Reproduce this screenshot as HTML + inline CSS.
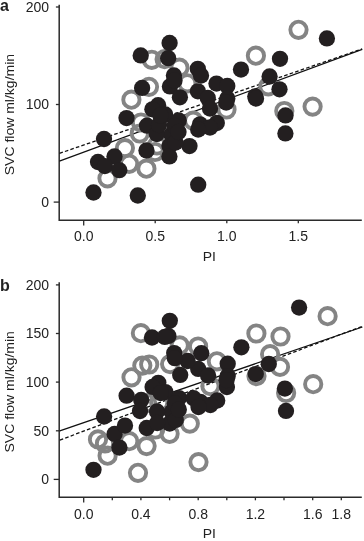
<!DOCTYPE html>
<html><head><meta charset="utf-8"><style>html,body{margin:0;padding:0;background:#fff;width:364px;height:541px;overflow:hidden}svg{display:block;will-change:transform}</style></head>
<body><svg width="364" height="541" viewBox="0 0 364 541" font-family="'Liberation Sans', sans-serif" fill="#222">
<path d="M59.2 4.8 V220.3 H361.8" fill="none" stroke="#2b2b2b" stroke-width="1.5"/>
<line x1="53.7" y1="202.1" x2="59.2" y2="202.1" stroke="#2b2b2b" stroke-width="1.3"/>
<text x="49.1" y="206.90" text-anchor="end" font-size="14">0</text>
<line x1="55.9" y1="104.5" x2="59.2" y2="104.5" stroke="#2b2b2b" stroke-width="1.3"/>
<text x="49.1" y="109.35" text-anchor="end" font-size="14">100</text>
<line x1="55.9" y1="7.0" x2="59.2" y2="7.0" stroke="#2b2b2b" stroke-width="1.3"/>
<text x="49.1" y="11.80" text-anchor="end" font-size="14">200</text>
<line x1="83.7" y1="220.3" x2="83.7" y2="225.5" stroke="#2b2b2b" stroke-width="1.3"/>
<text x="83.7" y="241.2" text-anchor="middle" font-size="14">0.0</text>
<line x1="155.2" y1="220.3" x2="155.2" y2="223.3" stroke="#2b2b2b" stroke-width="1.3"/>
<text x="155.2" y="241.2" text-anchor="middle" font-size="14">0.5</text>
<line x1="226.8" y1="220.3" x2="226.8" y2="223.3" stroke="#2b2b2b" stroke-width="1.3"/>
<text x="226.8" y="241.2" text-anchor="middle" font-size="14">1.0</text>
<line x1="298.3" y1="220.3" x2="298.3" y2="223.3" stroke="#2b2b2b" stroke-width="1.3"/>
<text x="298.3" y="241.2" text-anchor="middle" font-size="14">1.5</text>
<text transform="translate(209.3 260.5) scale(1.037 1)" text-anchor="middle" font-size="13.5">PI</text>
<text x="0" y="11.3" font-size="16" font-weight="bold">a</text>
<text transform="translate(14 114.6) rotate(-90) scale(1.037 1)" text-anchor="middle" font-size="13.5">SVC flow ml/kg/min</text>
<line x1="59.4" y1="161.2" x2="362.2" y2="49.4" stroke="#111" stroke-width="1.3"/>
<line x1="59.4" y1="153.4" x2="362.2" y2="48.9" stroke="#111" stroke-width="1.3" stroke-dasharray="3.6 2.2"/>
<circle cx="151.8" cy="59.8" r="8.15" fill="none" stroke="#848484" stroke-width="3.9"/>
<circle cx="164.6" cy="59.2" r="8.15" fill="none" stroke="#848484" stroke-width="3.9"/>
<circle cx="179.4" cy="67.7" r="8.15" fill="none" stroke="#848484" stroke-width="3.9"/>
<circle cx="255.9" cy="55.7" r="8.15" fill="none" stroke="#848484" stroke-width="3.9"/>
<circle cx="268.3" cy="86.3" r="8.15" fill="none" stroke="#848484" stroke-width="3.9"/>
<circle cx="312.6" cy="106.6" r="8.15" fill="none" stroke="#848484" stroke-width="3.9"/>
<circle cx="284.3" cy="111.0" r="8.15" fill="none" stroke="#848484" stroke-width="3.9"/>
<circle cx="298.5" cy="29.8" r="8.15" fill="none" stroke="#848484" stroke-width="3.9"/>
<circle cx="187.3" cy="83.3" r="8.15" fill="none" stroke="#848484" stroke-width="3.9"/>
<circle cx="226.5" cy="109.5" r="8.15" fill="none" stroke="#848484" stroke-width="3.9"/>
<circle cx="149.0" cy="86.8" r="8.15" fill="none" stroke="#848484" stroke-width="3.9"/>
<circle cx="131.4" cy="99.7" r="8.15" fill="none" stroke="#848484" stroke-width="3.9"/>
<circle cx="141.0" cy="122.5" r="8.15" fill="none" stroke="#848484" stroke-width="3.9"/>
<circle cx="193.2" cy="120.6" r="8.15" fill="none" stroke="#848484" stroke-width="3.9"/>
<circle cx="124.9" cy="148.1" r="8.15" fill="none" stroke="#848484" stroke-width="3.9"/>
<circle cx="129.1" cy="163.8" r="8.15" fill="none" stroke="#848484" stroke-width="3.9"/>
<circle cx="146.4" cy="168.7" r="8.15" fill="none" stroke="#848484" stroke-width="3.9"/>
<circle cx="155.0" cy="152.0" r="8.15" fill="none" stroke="#848484" stroke-width="3.9"/>
<circle cx="139.8" cy="133.5" r="8.15" fill="none" stroke="#848484" stroke-width="3.9"/>
<circle cx="107.5" cy="178.3" r="8.15" fill="none" stroke="#848484" stroke-width="3.9"/>
<circle cx="157.0" cy="145.5" r="8.15" fill="none" stroke="#848484" stroke-width="3.9"/>
<circle cx="140.7" cy="55.4" r="8.15" fill="#231f20"/>
<circle cx="169.6" cy="43.0" r="8.15" fill="#231f20"/>
<circle cx="168.2" cy="58.2" r="8.15" fill="#231f20"/>
<circle cx="173.9" cy="75.4" r="8.15" fill="#231f20"/>
<circle cx="197.8" cy="68.8" r="8.15" fill="#231f20"/>
<circle cx="241.0" cy="69.6" r="8.15" fill="#231f20"/>
<circle cx="280.0" cy="58.8" r="8.15" fill="#231f20"/>
<circle cx="269.6" cy="76.5" r="8.15" fill="#231f20"/>
<circle cx="279.5" cy="89.3" r="8.15" fill="#231f20"/>
<circle cx="255.3" cy="96.5" r="8.15" fill="#231f20"/>
<circle cx="285.5" cy="115.4" r="8.15" fill="#231f20"/>
<circle cx="285.4" cy="133.4" r="8.15" fill="#231f20"/>
<circle cx="326.9" cy="38.4" r="8.15" fill="#231f20"/>
<circle cx="169.9" cy="86.4" r="8.15" fill="#231f20"/>
<circle cx="179.9" cy="97.3" r="8.15" fill="#231f20"/>
<circle cx="201.0" cy="75.5" r="8.15" fill="#231f20"/>
<circle cx="197.9" cy="91.3" r="8.15" fill="#231f20"/>
<circle cx="216.5" cy="83.6" r="8.15" fill="#231f20"/>
<circle cx="207.8" cy="97.9" r="8.15" fill="#231f20"/>
<circle cx="210.0" cy="108.5" r="8.15" fill="#231f20"/>
<circle cx="227.3" cy="86.0" r="8.15" fill="#231f20"/>
<circle cx="227.3" cy="98.5" r="8.15" fill="#231f20"/>
<circle cx="142.1" cy="87.9" r="8.15" fill="#231f20"/>
<circle cx="126.5" cy="118.1" r="8.15" fill="#231f20"/>
<circle cx="158.1" cy="105.2" r="8.15" fill="#231f20"/>
<circle cx="152.4" cy="109.3" r="8.15" fill="#231f20"/>
<circle cx="165.2" cy="114.5" r="8.15" fill="#231f20"/>
<circle cx="178.7" cy="120.5" r="8.15" fill="#231f20"/>
<circle cx="147.0" cy="125.7" r="8.15" fill="#231f20"/>
<circle cx="171.5" cy="134.5" r="8.15" fill="#231f20"/>
<circle cx="169.5" cy="146.0" r="8.15" fill="#231f20"/>
<circle cx="189.5" cy="146.1" r="8.15" fill="#231f20"/>
<circle cx="226.2" cy="102.5" r="8.15" fill="#231f20"/>
<circle cx="200.0" cy="124.3" r="8.15" fill="#231f20"/>
<circle cx="216.8" cy="123.0" r="8.15" fill="#231f20"/>
<circle cx="210.0" cy="127.5" r="8.15" fill="#231f20"/>
<circle cx="104.0" cy="139.0" r="8.15" fill="#231f20"/>
<circle cx="98.0" cy="162.0" r="8.15" fill="#231f20"/>
<circle cx="114.5" cy="156.5" r="8.15" fill="#231f20"/>
<circle cx="104.9" cy="166.1" r="8.15" fill="#231f20"/>
<circle cx="119.3" cy="170.2" r="8.15" fill="#231f20"/>
<circle cx="93.5" cy="192.5" r="8.15" fill="#231f20"/>
<circle cx="137.8" cy="195.5" r="8.15" fill="#231f20"/>
<circle cx="146.5" cy="150.5" r="8.15" fill="#231f20"/>
<circle cx="169.4" cy="156.4" r="8.15" fill="#231f20"/>
<circle cx="156.8" cy="134.0" r="8.15" fill="#231f20"/>
<circle cx="175.5" cy="142.5" r="8.15" fill="#231f20"/>
<circle cx="159.0" cy="125.0" r="8.15" fill="#231f20"/>
<circle cx="174.5" cy="126.0" r="8.15" fill="#231f20"/>
<circle cx="198.2" cy="184.7" r="8.15" fill="#231f20"/>
<circle cx="256.0" cy="98.5" r="8.15" fill="#231f20"/>
<circle cx="174.5" cy="80.5" r="8.15" fill="#231f20"/>
<circle cx="198.2" cy="129.5" r="8.15" fill="#231f20"/>
<circle cx="178.5" cy="132.0" r="8.15" fill="#231f20"/>
<circle cx="160.5" cy="115.5" r="8.15" fill="#231f20"/>
<path d="M59.2 282.2 V497.3 H361.8" fill="none" stroke="#2b2b2b" stroke-width="1.5"/>
<line x1="53.7" y1="479.4" x2="59.2" y2="479.4" stroke="#2b2b2b" stroke-width="1.3"/>
<text x="49.1" y="484.20" text-anchor="end" font-size="14">0</text>
<line x1="55.9" y1="430.8" x2="59.2" y2="430.8" stroke="#2b2b2b" stroke-width="1.3"/>
<text x="49.1" y="435.57" text-anchor="end" font-size="14">50</text>
<line x1="55.9" y1="382.1" x2="59.2" y2="382.1" stroke="#2b2b2b" stroke-width="1.3"/>
<text x="49.1" y="386.95" text-anchor="end" font-size="14">100</text>
<line x1="55.9" y1="333.5" x2="59.2" y2="333.5" stroke="#2b2b2b" stroke-width="1.3"/>
<text x="49.1" y="338.32" text-anchor="end" font-size="14">150</text>
<line x1="55.9" y1="284.9" x2="59.2" y2="284.9" stroke="#2b2b2b" stroke-width="1.3"/>
<text x="49.1" y="289.70" text-anchor="end" font-size="14">200</text>
<line x1="83.7" y1="497.3" x2="83.7" y2="502.5" stroke="#2b2b2b" stroke-width="1.3"/>
<text x="83.7" y="519.2" text-anchor="middle" font-size="14">0.0</text>
<line x1="140.9" y1="497.3" x2="140.9" y2="500.3" stroke="#2b2b2b" stroke-width="1.3"/>
<text x="140.9" y="519.2" text-anchor="middle" font-size="14">0.4</text>
<line x1="198.2" y1="497.3" x2="198.2" y2="500.3" stroke="#2b2b2b" stroke-width="1.3"/>
<text x="198.2" y="519.2" text-anchor="middle" font-size="14">0.8</text>
<line x1="255.4" y1="497.3" x2="255.4" y2="500.3" stroke="#2b2b2b" stroke-width="1.3"/>
<text x="255.4" y="519.2" text-anchor="middle" font-size="14">1.2</text>
<line x1="312.7" y1="497.3" x2="312.7" y2="500.3" stroke="#2b2b2b" stroke-width="1.3"/>
<text x="312.7" y="519.2" text-anchor="middle" font-size="14">1.6</text>
<line x1="341.3" y1="497.3" x2="341.3" y2="500.3" stroke="#2b2b2b" stroke-width="1.3"/>
<text x="341.3" y="519.2" text-anchor="middle" font-size="14">1.8</text>
<line x1="112.3" y1="497.3" x2="112.3" y2="500.3" stroke="#2b2b2b" stroke-width="1.3"/>
<line x1="169.6" y1="497.3" x2="169.6" y2="500.3" stroke="#2b2b2b" stroke-width="1.3"/>
<line x1="226.8" y1="497.3" x2="226.8" y2="500.3" stroke="#2b2b2b" stroke-width="1.3"/>
<line x1="284.0" y1="497.3" x2="284.0" y2="500.3" stroke="#2b2b2b" stroke-width="1.3"/>
<text transform="translate(209.3 538.2) scale(1.037 1)" text-anchor="middle" font-size="13.5">PI</text>
<text x="0" y="291.3" font-size="16" font-weight="bold">b</text>
<text transform="translate(14 391.8) rotate(-90) scale(1.037 1)" text-anchor="middle" font-size="13.5">SVC flow ml/kg/min</text>
<line x1="59.8" y1="430.8" x2="362.4" y2="327.0" stroke="#111" stroke-width="1.3"/>
<line x1="59.8" y1="440.1" x2="362.4" y2="326.3" stroke="#111" stroke-width="1.3" stroke-dasharray="3.6 2.2"/>
<circle cx="140.9" cy="333.2" r="8.15" fill="none" stroke="#848484" stroke-width="3.9"/>
<circle cx="179.7" cy="345.4" r="8.15" fill="none" stroke="#848484" stroke-width="3.9"/>
<circle cx="198.1" cy="346.5" r="8.15" fill="none" stroke="#848484" stroke-width="3.9"/>
<circle cx="280.5" cy="336.5" r="8.15" fill="none" stroke="#848484" stroke-width="3.9"/>
<circle cx="270.1" cy="354.2" r="8.15" fill="none" stroke="#848484" stroke-width="3.9"/>
<circle cx="256.4" cy="333.5" r="8.15" fill="none" stroke="#848484" stroke-width="3.9"/>
<circle cx="280.0" cy="366.9" r="8.15" fill="none" stroke="#848484" stroke-width="3.9"/>
<circle cx="286.1" cy="393.0" r="8.15" fill="none" stroke="#848484" stroke-width="3.9"/>
<circle cx="313.2" cy="384.2" r="8.15" fill="none" stroke="#848484" stroke-width="3.9"/>
<circle cx="327.6" cy="316.2" r="8.15" fill="none" stroke="#848484" stroke-width="3.9"/>
<circle cx="170.1" cy="364.1" r="8.15" fill="none" stroke="#848484" stroke-width="3.9"/>
<circle cx="216.9" cy="361.3" r="8.15" fill="none" stroke="#848484" stroke-width="3.9"/>
<circle cx="210.4" cy="386.1" r="8.15" fill="none" stroke="#848484" stroke-width="3.9"/>
<circle cx="142.3" cy="365.6" r="8.15" fill="none" stroke="#848484" stroke-width="3.9"/>
<circle cx="149.2" cy="364.5" r="8.15" fill="none" stroke="#848484" stroke-width="3.9"/>
<circle cx="131.5" cy="377.3" r="8.15" fill="none" stroke="#848484" stroke-width="3.9"/>
<circle cx="147.2" cy="403.2" r="8.15" fill="none" stroke="#848484" stroke-width="3.9"/>
<circle cx="189.8" cy="423.6" r="8.15" fill="none" stroke="#848484" stroke-width="3.9"/>
<circle cx="98.0" cy="439.4" r="8.15" fill="none" stroke="#848484" stroke-width="3.9"/>
<circle cx="105.0" cy="443.5" r="8.15" fill="none" stroke="#848484" stroke-width="3.9"/>
<circle cx="138.0" cy="472.8" r="8.15" fill="none" stroke="#848484" stroke-width="3.9"/>
<circle cx="169.6" cy="433.8" r="8.15" fill="none" stroke="#848484" stroke-width="3.9"/>
<circle cx="129.2" cy="441.2" r="8.15" fill="none" stroke="#848484" stroke-width="3.9"/>
<circle cx="146.6" cy="446.1" r="8.15" fill="none" stroke="#848484" stroke-width="3.9"/>
<circle cx="155.2" cy="429.5" r="8.15" fill="none" stroke="#848484" stroke-width="3.9"/>
<circle cx="107.6" cy="455.7" r="8.15" fill="none" stroke="#848484" stroke-width="3.9"/>
<circle cx="159.2" cy="402.5" r="8.15" fill="none" stroke="#848484" stroke-width="3.9"/>
<circle cx="198.5" cy="462.1" r="8.15" fill="none" stroke="#848484" stroke-width="3.9"/>
<circle cx="256.5" cy="376.1" r="8.15" fill="none" stroke="#848484" stroke-width="3.9"/>
<circle cx="169.8" cy="320.8" r="8.15" fill="#231f20"/>
<circle cx="168.4" cy="335.9" r="8.15" fill="#231f20"/>
<circle cx="152.0" cy="337.5" r="8.15" fill="#231f20"/>
<circle cx="164.8" cy="336.9" r="8.15" fill="#231f20"/>
<circle cx="174.2" cy="353.1" r="8.15" fill="#231f20"/>
<circle cx="241.4" cy="347.3" r="8.15" fill="#231f20"/>
<circle cx="268.8" cy="364.0" r="8.15" fill="#231f20"/>
<circle cx="255.8" cy="374.1" r="8.15" fill="#231f20"/>
<circle cx="286.0" cy="410.9" r="8.15" fill="#231f20"/>
<circle cx="284.9" cy="388.6" r="8.15" fill="#231f20"/>
<circle cx="299.1" cy="307.6" r="8.15" fill="#231f20"/>
<circle cx="180.2" cy="374.9" r="8.15" fill="#231f20"/>
<circle cx="201.3" cy="353.2" r="8.15" fill="#231f20"/>
<circle cx="198.2" cy="368.9" r="8.15" fill="#231f20"/>
<circle cx="208.1" cy="375.5" r="8.15" fill="#231f20"/>
<circle cx="187.6" cy="361.0" r="8.15" fill="#231f20"/>
<circle cx="227.7" cy="363.7" r="8.15" fill="#231f20"/>
<circle cx="227.7" cy="376.1" r="8.15" fill="#231f20"/>
<circle cx="226.9" cy="387.1" r="8.15" fill="#231f20"/>
<circle cx="126.6" cy="395.7" r="8.15" fill="#231f20"/>
<circle cx="141.2" cy="400.0" r="8.15" fill="#231f20"/>
<circle cx="158.3" cy="382.8" r="8.15" fill="#231f20"/>
<circle cx="152.6" cy="386.9" r="8.15" fill="#231f20"/>
<circle cx="165.4" cy="392.1" r="8.15" fill="#231f20"/>
<circle cx="179.0" cy="398.1" r="8.15" fill="#231f20"/>
<circle cx="171.7" cy="412.0" r="8.15" fill="#231f20"/>
<circle cx="169.7" cy="423.5" r="8.15" fill="#231f20"/>
<circle cx="226.6" cy="380.1" r="8.15" fill="#231f20"/>
<circle cx="200.3" cy="401.8" r="8.15" fill="#231f20"/>
<circle cx="217.2" cy="400.5" r="8.15" fill="#231f20"/>
<circle cx="210.4" cy="405.0" r="8.15" fill="#231f20"/>
<circle cx="193.5" cy="398.2" r="8.15" fill="#231f20"/>
<circle cx="104.1" cy="416.5" r="8.15" fill="#231f20"/>
<circle cx="114.6" cy="433.9" r="8.15" fill="#231f20"/>
<circle cx="119.4" cy="447.6" r="8.15" fill="#231f20"/>
<circle cx="93.5" cy="469.8" r="8.15" fill="#231f20"/>
<circle cx="146.7" cy="428.0" r="8.15" fill="#231f20"/>
<circle cx="157.0" cy="411.5" r="8.15" fill="#231f20"/>
<circle cx="175.8" cy="420.0" r="8.15" fill="#231f20"/>
<circle cx="125.0" cy="425.6" r="8.15" fill="#231f20"/>
<circle cx="140.0" cy="411.0" r="8.15" fill="#231f20"/>
<circle cx="157.2" cy="423.0" r="8.15" fill="#231f20"/>
<circle cx="174.8" cy="403.5" r="8.15" fill="#231f20"/>
<circle cx="174.8" cy="358.2" r="8.15" fill="#231f20"/>
<circle cx="198.5" cy="407.0" r="8.15" fill="#231f20"/>
<circle cx="178.8" cy="409.5" r="8.15" fill="#231f20"/>
<circle cx="160.7" cy="393.1" r="8.15" fill="#231f20"/>
</svg></body></html>
